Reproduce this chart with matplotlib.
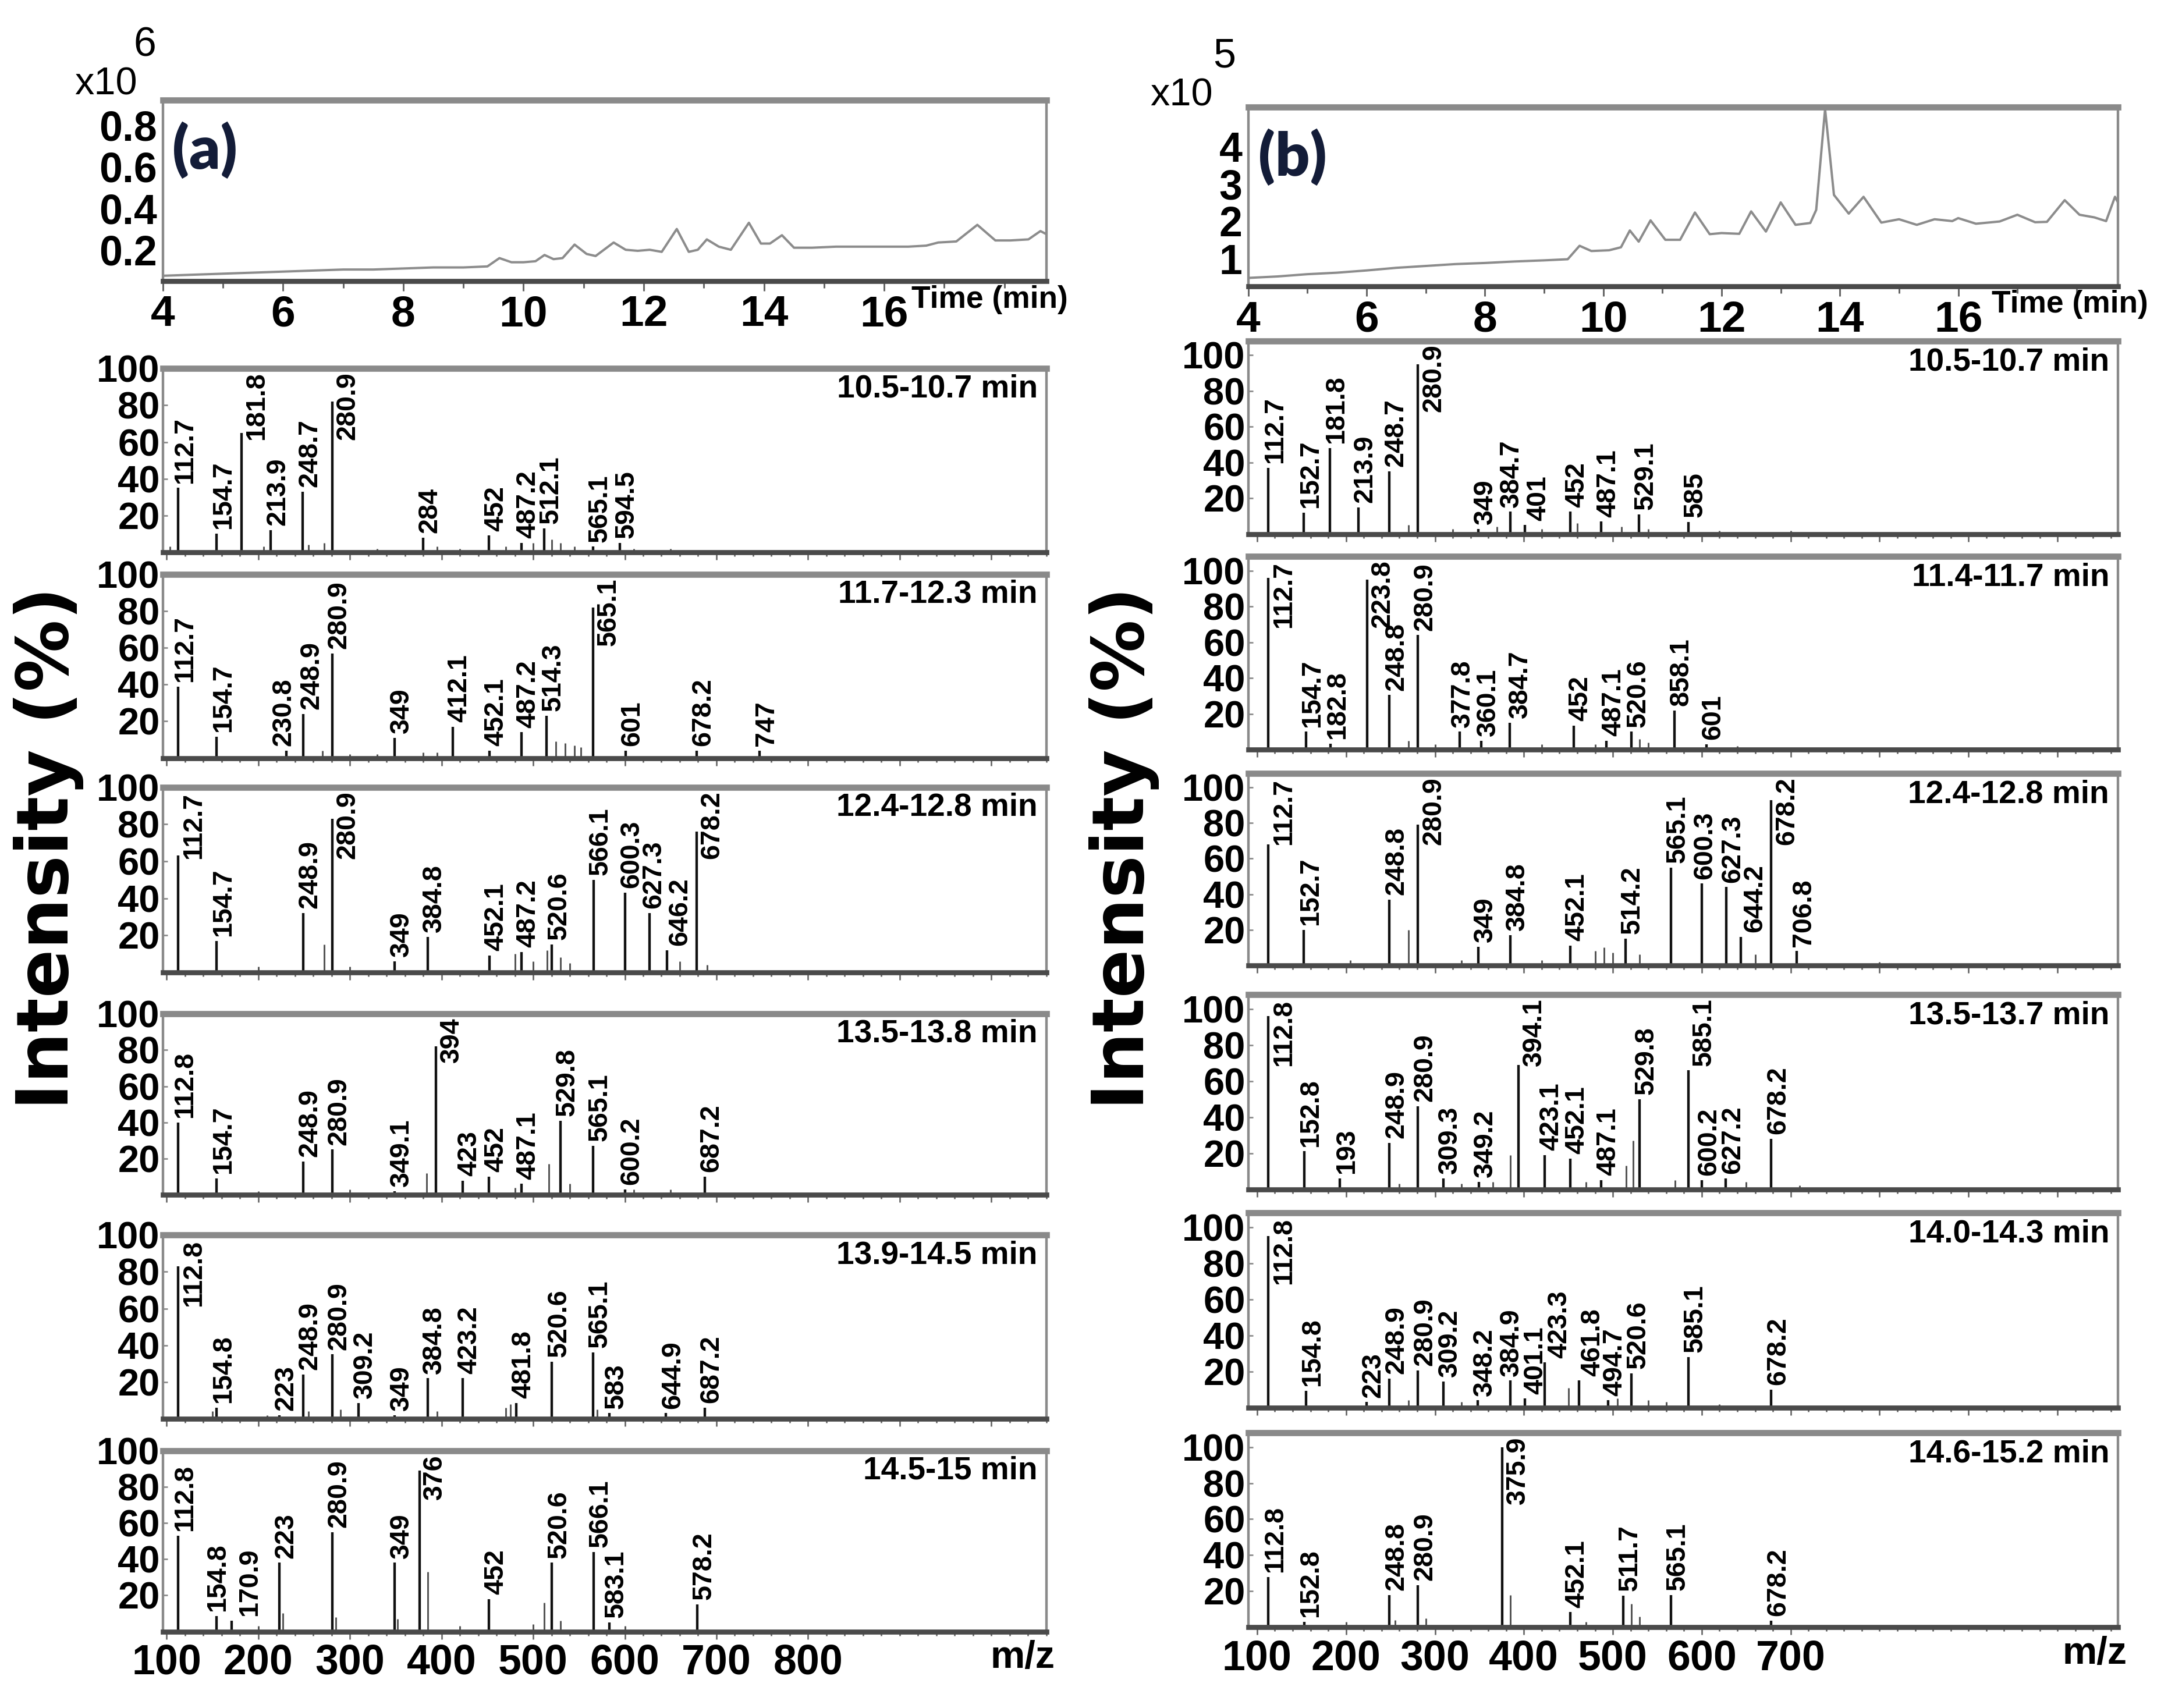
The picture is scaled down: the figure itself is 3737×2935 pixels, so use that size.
import matplotlib.pyplot as plt
from matplotlib.ticker import MultipleLocator, FixedLocator

plt.rcParams['font.family'] = ['Liberation Sans', 'DejaVu Sans']
plt.rcParams['font.weight'] = 'bold'

# ---------------- total ion chromatograms ----------------
tic_a_time = [4.0, 4.5, 5.0, 5.5, 6.0, 6.5, 7.0, 7.5, 8.0, 8.5, 9.0, 9.4, 9.6, 9.8, 10.0,
              10.2, 10.35, 10.5, 10.65, 10.85, 11.05, 11.2, 11.5, 11.7, 11.9, 12.1, 12.3,
              12.55, 12.75, 12.9, 13.05, 13.25, 13.45, 13.75, 13.95, 14.1, 14.3, 14.5, 14.8,
              15.2, 15.6, 16.0, 16.4, 16.7, 16.9, 17.2, 17.55, 17.85, 18.1, 18.4, 18.6, 18.7]
tic_a_int = [0.075, 0.08, 0.085, 0.09, 0.095, 0.1, 0.105, 0.105, 0.11, 0.115, 0.115, 0.12,
             0.16, 0.14, 0.14, 0.145, 0.175, 0.155, 0.16, 0.225, 0.18, 0.17, 0.235, 0.2,
             0.195, 0.2, 0.19, 0.3, 0.19, 0.2, 0.25, 0.215, 0.2, 0.33, 0.23, 0.23, 0.27,
             0.21, 0.21, 0.215, 0.215, 0.215, 0.215, 0.22, 0.235, 0.24, 0.32, 0.245, 0.245,
             0.25, 0.29, 0.275]

tic_b_time = [4.0, 4.5, 5.0, 5.5, 6.0, 6.5, 7.0, 7.5, 8.0, 8.5, 9.0, 9.4, 9.6, 9.8, 10.1,
              10.3, 10.45, 10.6, 10.8, 11.05, 11.3, 11.55, 11.8, 12.0, 12.3, 12.5, 12.75,
              13.0, 13.25, 13.5, 13.6, 13.75, 13.9, 14.15, 14.4, 14.7, 15.0, 15.3, 15.6,
              15.9, 16.0, 16.3, 16.7, 17.0, 17.3, 17.5, 17.8, 18.05, 18.3, 18.5, 18.65, 18.7]
tic_b_int = [0.48, 0.52, 0.58, 0.62, 0.68, 0.75, 0.8, 0.85, 0.88, 0.92, 0.95, 0.98, 1.34,
             1.2, 1.22, 1.3, 1.75, 1.45, 2.02, 1.5, 1.5, 2.23, 1.65, 1.68, 1.66, 2.26, 1.72,
             2.5, 1.9, 1.95, 2.3, 5.0, 2.7, 2.2, 2.65, 1.96, 2.05, 1.9, 2.05, 2.0, 2.08, 1.93,
             1.99, 2.17, 1.97, 1.98, 2.56, 2.17, 2.1, 2.0, 2.65, 2.5]

# ---------------- mass spectra, column (a) ----------------
a1_mz = [112.7, 154.7, 181.8, 213.9, 248.7, 280.9, 380, 452, 487.2, 512.1, 565.1, 594.5]
a1_int = [35, 10, 65, 12, 33, 82, 8, 9, 5, 13, 3, 5]
a1_lab = ['112.7', '154.7', '181.8', '213.9', '248.7', '280.9', '284', '452', '487.2',
          '512.1', '565.1', '594.5']
a1_minor_mz = [104, 206, 255, 272, 330, 395, 420, 470, 500, 520, 530, 545, 610, 650]
a1_minor_int = [3, 3, 4, 5, 2, 3, 2, 3, 5, 7, 5, 3, 2, 2]

a2_mz = [112.7, 154.7, 230.8, 248.9, 280.9, 349, 412.1, 452.1, 487.2, 514.3, 565.1, 601,
         678.2, 747]
a2_int = [39, 11.5, 4, 24, 57, 11, 17, 4, 14, 23, 82, 4, 4, 4]
a2_lab = ['112.7', '154.7', '230.8', '248.9', '280.9', '349', '412.1', '452.1', '487.2',
          '514.3', '565.1', '601', '678.2', '747']
a2_minor_mz = [270, 525, 535, 545, 552, 380, 300, 330, 395]
a2_minor_int = [4, 9, 8, 7, 6, 3, 2, 2, 3]

a3_mz = [112.7, 154.7, 248.9, 280.9, 349, 384.8, 452.1, 487.2, 520.6, 566.1, 600.3, 627.3,
         646.2, 678.2]
a3_int = [63, 17, 32, 83, 6, 19, 9, 11, 15, 50, 43, 32, 12, 76]
a3_lab = ['112.7', '154.7', '248.9', '280.9', '349', '384.8', '452.1', '487.2', '520.6',
          '566.1', '600.3', '627.3', '646.2', '678.2']
a3_minor_mz = [272, 480, 500, 515, 530, 540, 660, 690, 300, 200]
a3_minor_int = [15, 10, 6, 12, 8, 5, 6, 4, 3, 3]

a4_mz = [112.8, 154.7, 248.9, 280.9, 349.1, 394, 423, 452, 487.1, 529.8, 565.1, 600.2, 687.2]
a4_int = [40, 9, 18.5, 25, 2, 82, 7.7, 10, 6, 41, 27, 3, 10]
a4_lab = ['112.8', '154.7', '248.9', '280.9', '349.1', '394', '423', '452', '487.1',
          '529.8', '565.1', '600.2', '687.2']
a4_minor_mz = [384, 517, 540, 480, 300, 200, 650, 610]
a4_minor_int = [12, 17, 6, 4, 3, 2, 3, 3]

a5_mz = [112.8, 154.8, 223, 248.9, 280.9, 309.2, 349, 384.8, 423.2, 481.8, 520.6, 565.1,
         583, 644.9, 687.2]
a5_int = [83, 6, 2, 24, 35, 8.5, 2, 22, 22, 8.5, 31, 36, 3, 3, 6]
a5_lab = ['112.8', '154.8', '223', '248.9', '280.9', '309.2', '349', '384.8', '423.2',
          '481.8', '520.6', '565.1', '583', '644.9', '687.2']
a5_minor_mz = [475, 150, 255, 290, 395, 470, 570, 210]
a5_minor_int = [8, 4, 4, 5, 4, 6, 5, 2]

a6_mz = [112.8, 154.8, 170.9, 223, 280.9, 349, 376, 452, 520.6, 566.1, 583.1, 679]
a6_int = [53, 8.6, 6, 38, 55, 38, 89, 18, 38, 44, 5, 15]
a6_lab = ['112.8', '154.8', '170.9', '223', '280.9', '349', '376', '452', '520.6',
          '566.1', '583.1', '578.2']
a6_minor_mz = [385, 512, 530, 227, 285, 352, 200, 420, 500, 600]
a6_minor_int = [33, 16, 6, 10, 8, 7, 3, 3, 4, 3]

# ---------------- mass spectra, column (b) ----------------
b1_mz = [112.7, 152.7, 181.8, 213.9, 248.7, 280.9, 349, 384.7, 401, 452, 487.1, 529.1, 585]
b1_int = [37, 12, 48, 15, 35, 95, 3, 12.5, 5, 12.5, 7, 11, 6.7]
b1_lab = ['112.7', '152.7', '181.8', '213.9', '248.7', '280.9', '349', '384.7', '401',
          '452', '487.1', '529.1', '585']
b1_minor_mz = [460, 270, 320, 370, 420, 510, 540, 620, 700]
b1_minor_int = [6, 5, 3, 4, 3, 4, 3, 2, 2]

b2_mz = [112.7, 154.7, 182.8, 223.8, 248.8, 280.9, 328, 352, 384, 456, 493, 521, 569, 605]
b2_int = [96, 10, 3.4, 95, 30.5, 64, 10, 5, 15, 13.5, 5, 10, 22, 3]
b2_lab = ['112.7', '154.7', '182.8', '223.8', '248.8', '280.9', '377.8', '360.1', '384.7',
          '452', '487.1', '520.6', '858.1', '601']
b2_minor_mz = [270, 300, 420, 530, 540, 480, 640]
b2_minor_int = [5, 3, 3, 6, 4, 3, 2]

b3_mz = [112.7, 152.7, 248.8, 280.9, 349, 384.8, 452.1, 514.2, 565.1, 600.3, 627.3, 644.2,
         678.2, 706.8]
b3_int = [68, 20, 37, 79, 10.5, 17, 11, 15, 55, 46, 44, 16, 93, 8]
b3_lab = ['112.7', '152.7', '248.8', '280.9', '349', '384.8', '452.1', '514.2', '565.1',
          '600.3', '627.3', '644.2', '678.2', '706.8']
b3_minor_mz = [270, 480, 490, 500, 660, 530, 205, 330, 420, 800]
b3_minor_int = [20, 8, 10, 7, 6, 6, 3, 3, 3, 2]

b4_mz = [112.8, 152.8, 193, 248.9, 280.9, 309.3, 349.2, 394.1, 423.1, 452.1, 487.1, 529.8,
         585.1, 600.2, 627.2, 678.2]
b4_int = [96, 21, 6, 25.6, 46, 6, 4, 69, 19, 17, 5, 50, 66, 5, 6, 28]
b4_lab = ['112.8', '152.8', '193', '248.9', '280.9', '309.3', '349.2', '394.1', '423.1',
          '452.1', '487.1', '529.8', '585.1', '600.2', '627.2', '678.2']
b4_minor_mz = [385, 515, 523, 570, 650, 470, 260, 330, 365, 710]
b4_minor_int = [19, 13, 27, 5, 4, 4, 3, 3, 4, 2]

b5_mz = [112.8, 154.8, 223, 248.9, 280.9, 309.2, 348.2, 384.9, 401.1, 423.3, 461.8, 494.7,
         520.6, 585.1, 678.2]
b5_int = [95, 9.4, 3, 16, 20.5, 14.5, 4, 15, 5, 25, 15, 4, 19, 28, 10]
b5_lab = ['112.8', '154.8', '223', '248.9', '280.9', '309.2', '348.2', '384.9', '401.1',
          '423.3', '461.8', '494.7', '520.6', '585.1', '678.2']
b5_minor_mz = [450, 505, 270, 330, 540, 560, 620]
b5_minor_int = [11, 5, 4, 3, 4, 3, 2]

b6_mz = [112.8, 152.8, 248.8, 280.9, 375.9, 452.1, 511.7, 565.1, 678.2]
b6_int = [28, 3, 18, 23.5, 100, 8.4, 17.5, 18, 3.6]
b6_lab = ['112.8', '152.8', '248.8', '280.9', '375.9', '452.1', '511.7', '565.1', '678.2']
b6_minor_mz = [385, 521, 530, 255, 290, 200, 470]
b6_minor_int = [18, 13, 6, 4, 5, 3, 3]

a_windows = ['10.5-10.7 min', '11.7-12.3 min', '12.4-12.8 min', '13.5-13.8 min',
             '13.9-14.5 min', '14.5-15 min']
b_windows = ['10.5-10.7 min', '11.4-11.7 min', '12.4-12.8 min', '13.5-13.7 min',
             '14.0-14.3 min', '14.6-15.2 min']

# ---------------- layout (reference pixel grid 1563 x 1228) ----------------
REF_W, REF_H = 1563.0, 1228.0
FIG_W, FIG_H = 3737 / 240, 2935 / 240


def place(x0, y0, x1, y1):
    return [x0 / REF_W, 1 - y1 / REF_H, (x1 - x0) / REF_W, (y1 - y0) / REF_H]


def fx(x):
    return x / REF_W


def fy(y):
    return 1 - y / REF_H


a_rows = [(265, 397), (413, 545), (566, 699), (729, 859), (888, 1020), (1043, 1173)]
b_rows = [(245, 384), (400, 539), (556, 694), (715, 855), (872, 1012), (1030, 1170)]
A_X = (117, 752)
B_X = (897, 1522)

GRAY = '#8a8a8a'
DARK = '#4a4a4a'
CHAR_W = {'.': 0.278, '-': 0.333}
LAB_FS = 14

# small sideways nudges (points) for crowded peak labels
nudge = {('a', 1, '230.8'): -5, ('a', 1, '248.9'): 1,
         ('a', 2, '627.3'): -1.5, ('a', 2, '646.2'): 3,
         ('a', 5, '154.8'): -3, ('a', 5, '170.9'): 6,
         ('b', 0, '384.7'): -3, ('b', 0, '401'): 3.5,
         ('b', 1, '377.8'): -2, ('b', 1, '384.7'): 2,
         ('b', 2, '600.3'): -2, ('b', 2, '644.2'): 3.5,
         ('b', 4, '384.9'): -3, ('b', 4, '401.1'): 2, ('b', 4, '423.3'): 4,
         ('b', 4, '461.8'): 3.5}


def frame(ax):
    for side in ['left', 'right']:
        ax.spines[side].set_color(GRAY)
        ax.spines[side].set_linewidth(1.3)
    ax.spines['top'].set_color(GRAY)
    ax.spines['top'].set_linewidth(3.2)
    ax.spines['bottom'].set_color(DARK)
    ax.spines['bottom'].set_linewidth(2.6)


def draw_spectrum(ax, key, mz, inten, labels, minor_mz, minor_int, window, xlim, ylim,
                  bottom):
    ax.vlines(minor_mz, 0, minor_int, color='#555555', lw=0.9)
    ax.vlines(mz, 0, inten, color='#111111', lw=1.3)
    ax.set_xlim(*xlim)
    ax.set_ylim(*ylim)
    frame(ax)

    ax.yaxis.set_major_locator(FixedLocator([20, 40, 60, 80, 100]))
    ax.tick_params(axis='y', direction='in', length=2.5, width=0.8, color=GRAY,
                   labelsize=19.5, pad=1.5)
    ax.xaxis.set_major_locator(MultipleLocator(100))
    ax.xaxis.set_minor_locator(MultipleLocator(20))
    ax.tick_params(axis='x', which='both', direction='out', color='#666666', width=0.8)
    ax.tick_params(axis='x', which='major', length=4)
    ax.tick_params(axis='x', which='minor', length=2)
    if bottom:
        ax.tick_params(axis='x', labelsize=21.5, pad=2)
        ax.set_xticks(bottom)
        ax.text(0.973, -0.045, 'm/z', transform=ax.transAxes, ha='center', va='top',
                fontsize=20)
    else:
        ax.tick_params(axis='x', labelbottom=False)

    ax.text(0.99, 0.89, window, transform=ax.transAxes, ha='right', va='center',
            fontsize=16.5)

    # peak labels, rotated, sitting on top of the stick or beside a tall one
    pos = ax.get_position()
    units_per_pt = (ylim[1] - ylim[0]) / (pos.height * FIG_H * 72)
    for x, h, lab in zip(mz, inten, labels):
        length = LAB_FS * sum(CHAR_W.get(c, 0.556) for c in lab) * units_per_pt
        y0 = h + 2.5
        dx = 3.5
        if y0 + length > ylim[1] - 2:
            y0 = ylim[1] - 2 - length
            dx = 8
        dx += nudge.get(key + (lab,), 0)
        ax.annotate(lab, xy=(x, y0), xytext=(dx, 0), textcoords='offset points',
                    rotation=90, ha='center', va='bottom', fontsize=LAB_FS,
                    annotation_clip=False)


def draw_tic(ax, t, v, ylim, yticks, ylabels):
    ax.plot(t, v, color='#8c8c8c', lw=1.2)
    ax.set_xlim(4, 18.7)
    ax.set_ylim(*ylim)
    frame(ax)
    ax.xaxis.set_major_locator(FixedLocator([4, 6, 8, 10, 12, 14, 16]))
    ax.xaxis.set_minor_locator(MultipleLocator(1))
    ax.tick_params(axis='x', which='both', direction='out', color='#666666', width=0.9)
    ax.tick_params(axis='x', which='major', length=5, labelsize=22.5, pad=2)
    ax.tick_params(axis='x', which='minor', length=3.5)
    ax.set_yticks(yticks)
    ax.set_yticklabels(ylabels)
    ax.tick_params(axis='y', length=0, labelsize=21.5, pad=3)


fig = plt.figure(figsize=(FIG_W, FIG_H), dpi=240)

# chromatograms
ax_ta = fig.add_axes(place(A_X[0], 72, A_X[1], 202))
draw_tic(ax_ta, tic_a_time, tic_a_int, (0.05, 0.92), [0.2, 0.4, 0.6, 0.8],
         ['0.2', '0.4', '0.6', '0.8'])
ax_ta.text(0.847, -0.105, 'Time (min)', transform=ax_ta.transAxes, ha='left', va='center',
           fontsize=16)

ax_tb = fig.add_axes(place(B_X[0], 77, B_X[1], 206))
draw_tic(ax_tb, tic_b_time, tic_b_int, (0.25, 5.05), [1, 2, 3, 4], ['1', '2', '3', '4'])
ax_tb.text(0.855, -0.1, 'Time (min)', transform=ax_tb.transAxes, ha='left', va='center',
           fontsize=16)

fig.text(fx(76), fy(61), 'x10', ha='center', va='center', fontsize=20, fontweight='normal')
fig.text(fx(104), fy(33), '6', ha='center', va='center', fontsize=21, fontweight='normal')
fig.text(fx(849), fy(69), 'x10', ha='center', va='center', fontsize=20, fontweight='normal')
fig.text(fx(880), fy(41), '5', ha='center', va='center', fontsize=21, fontweight='normal')

fig.text(fx(147), fy(108), '(a)', ha='center', va='center', fontsize=31,
         family=['Lato', 'DejaVu Sans'], fontweight='heavy', color='#131c38')
fig.text(fx(929), fy(113), '(b)', ha='center', va='center', fontsize=31,
         family=['Lato', 'DejaVu Sans'], fontweight='heavy', color='#131c38')

# spectra
a_data = [(a1_mz, a1_int, a1_lab, a1_minor_mz, a1_minor_int),
          (a2_mz, a2_int, a2_lab, a2_minor_mz, a2_minor_int),
          (a3_mz, a3_int, a3_lab, a3_minor_mz, a3_minor_int),
          (a4_mz, a4_int, a4_lab, a4_minor_mz, a4_minor_int),
          (a5_mz, a5_int, a5_lab, a5_minor_mz, a5_minor_int),
          (a6_mz, a6_int, a6_lab, a6_minor_mz, a6_minor_int)]
b_data = [(b1_mz, b1_int, b1_lab, b1_minor_mz, b1_minor_int),
          (b2_mz, b2_int, b2_lab, b2_minor_mz, b2_minor_int),
          (b3_mz, b3_int, b3_lab, b3_minor_mz, b3_minor_int),
          (b4_mz, b4_int, b4_lab, b4_minor_mz, b4_minor_int),
          (b5_mz, b5_int, b5_lab, b5_minor_mz, b5_minor_int),
          (b6_mz, b6_int, b6_lab, b6_minor_mz, b6_minor_int)]

for i, ((top, bot), d, win) in enumerate(zip(a_rows, a_data, a_windows)):
    ax = fig.add_axes(place(A_X[0], top, A_X[1], bot))
    last = [100, 200, 300, 400, 500, 600, 700, 800] if i == 5 else None
    draw_spectrum(ax, ('a', i), *d, win, (96, 1060), (0, 100), last)

for i, ((top, bot), d, win) in enumerate(zip(b_rows, b_data, b_windows)):
    ax = fig.add_axes(place(B_X[0], top, B_X[1], bot))
    last = [100, 200, 300, 400, 500, 600, 700] if i == 5 else None
    draw_spectrum(ax, ('b', i), *d, win, (90, 1068), (0, 108), last)

fig.text(fx(35), fy(610), 'Intensity (%)', rotation=90, ha='center', va='center',
         fontsize=37, family=['DejaVu Sans'])
fig.text(fx(808), fy(610), 'Intensity (%)', rotation=90, ha='center', va='center',
         fontsize=37, family=['DejaVu Sans'])

fig.savefig('out.png', dpi=240)
